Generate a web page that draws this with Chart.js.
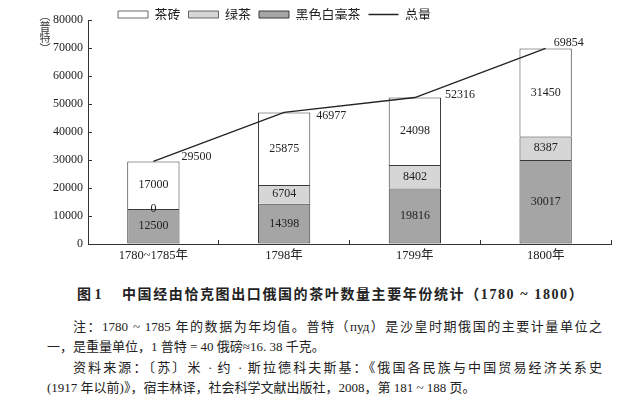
<!DOCTYPE html>
<html>
<head>
<meta charset="utf-8">
<script src="https://cdn.jsdelivr.net/npm/chart.js@4"></script>
<style>
  html, body { margin: 0; padding: 0; background: #fff; }
  body { width: 632px; height: 411px; position: relative; overflow: hidden;
         font-family: 'Liberation Serif', 'Noto Sans CJK SC', serif; color: #222; }
  #wrap { position: absolute; left: 0; top: 0; width: 632px; height: 270px; }
  #ytitle { position: absolute; left: 39px; top: 10px; width: 12px; text-align: center;
            font: 11px 'Noto Sans CJK SC'; line-height: 11px; color: #333; }
  #cap-title { position: absolute; top: 285px; left: 77px; line-height: 20px; white-space: nowrap;
               font-weight: bold; font-size: 14px; font-family: 'Liberation Serif', 'Noto Sans CJK SC'; }
  #cap-title .rest { position: absolute; left: 45px; letter-spacing: 1.6px; }
  #notes { position: absolute; top: 317px; left: 47px; width: 555px; font-size: 13px; line-height: 20.3px; }
  #notes p { margin: 0; white-space: nowrap; }
  #notes p.j { text-indent: 26px; text-align: justify; text-align-last: justify; white-space: normal; }
</style>
</head>
<body>
<div id="wrap"><canvas id="graf" width="632" height="270"></canvas></div>
<div id="ytitle">︵<br>普<br>特<br>︶</div>
<div id="cap-title">图 1<span class="rest">中国经由恰克图出口俄国的茶叶数量主要年份统计（1780 ~ 1800）</span></div>
<div id="notes">
  <p class="j">注：1780 ~ 1785 年的数据为年均值。普特（пуд）是沙皇时期俄国的主要计量单位之</p>
  <p>一，是重量单位，1 普特 = 40 俄磅≈16. 38 千克。</p>
  <p class="j">资料来源：〔苏〕米 · 约 · 斯拉德科夫斯基：《俄国各民族与中国贸易经济关系史</p>
  <p>(1917 年以前)》，宿丰林译，社会科学文献出版社，2008，第 181 ~ 188 页。</p>
</div>
<script>
// data
const roky = ['1780~1785年', '1798年', '1799年', '1800年'];
const cihlovyCaj = [17000, 25875, 24098, 31450];   // 茶砖
const zelenyCaj = [0, 6704, 8402, 8387];           // 绿茶
const cernyCaj = [12500, 14398, 19816, 30017];     // 黑色白毫茶
const celkem = [29500, 46977, 52316, 69854];       // 总量
const poradiLegendy = ['茶砖', '绿茶', '黑色白毫茶', '总量'];

// where the total labels sit next to their point (px)
const posunPopisku = [[28, -5], [32, 3], [30, -3], [8, -6]];

const serif = "'Liberation Serif', 'Noto Sans CJK SC'";
// upper segments skip their bottom edge so stacked borders stay 1px
const horniOkraj = { top: 1, left: 1, right: 1, bottom: 0 };

const popisky = {
  id: 'popisky',
  afterDatasetsDraw(chart) {
    const ctx = chart.ctx;
    ctx.save();
    ctx.font = '12px ' + serif;
    ctx.fillStyle = '#222';
    ctx.textBaseline = 'middle';
    chart.data.datasets.forEach((ds, i) => {
      const meta = chart.getDatasetMeta(i);
      meta.data.forEach((el, j) => {
        if (ds.type === 'line') {
          ctx.textAlign = 'left';
          ctx.fillText(String(ds.data[j]), el.x + posunPopisku[j][0], el.y + posunPopisku[j][1]);
        } else {
          ctx.textAlign = 'center';
          ctx.fillText(String(ds.data[j]), el.x, (el.y + el.base) / 2);
        }
      });
    });
    ctx.restore();
  }
};

const legenda = {
  id: 'legenda',
  beforeLayout(chart) {
    const lg = chart.legend;
    if (lg && !lg._upraveno) {
      const fit = lg.fit.bind(lg);
      lg.fit = function () { fit(); this.height = 20; };
      lg._upraveno = true;
    }
  },
  afterLayout(chart) {
    const lg = chart.legend;
    const posun = 110 - lg.left;
    lg.left += posun;
    lg.right += posun;
  }
};

const ctx = document.getElementById('graf').getContext('2d');
new Chart(ctx, {
  type: 'bar',
  data: {
    labels: roky,
    datasets: [
      { label: '黑色白毫茶', data: cernyCaj, backgroundColor: '#a5a5a5', borderColor: '#3a3a3a', borderWidth: 1, borderSkipped: false, pointStyle: 'rect' },
      { label: '绿茶', data: zelenyCaj, backgroundColor: '#d6d6d6', borderColor: '#3a3a3a', borderWidth: horniOkraj, borderSkipped: false, pointStyle: 'rect' },
      { label: '茶砖', data: cihlovyCaj, backgroundColor: '#ffffff', borderColor: '#3a3a3a', borderWidth: horniOkraj, borderSkipped: false, pointStyle: 'rect' },
      { type: 'line', label: '总量', data: celkem, borderColor: '#222', backgroundColor: 'transparent', borderWidth: 1.3,
        pointRadius: 0, pointBorderWidth: 1.5, pointStyle: 'line', tension: 0, order: -1 }
    ]
  },
  options: {
    responsive: false,
    animation: false,
    layout: { padding: { left: 0, right: 21, top: 0, bottom: 0 } },
    datasets: { bar: { categoryPercentage: 1, barPercentage: 0.4 } },
    scales: {
      x: {
        stacked: true,
        grid: { display: true, drawOnChartArea: false, drawTicks: true, tickLength: -4, color: '#333', offset: true },
        border: { color: '#333', width: 1 },
        ticks: { color: '#222', font: { size: 12.5, family: serif }, padding: 8.5, maxRotation: 0 },
        afterFit: s => { s.height = 26; }
      },
      y: {
        stacked: true,
        min: 0, max: 80000,
        grid: { display: true, drawOnChartArea: false, drawTicks: true, tickLength: -4, color: '#333' },
        border: { color: '#333', width: 1 },
        ticks: { stepSize: 10000, color: '#222', font: { size: 12, family: serif }, padding: 9,
                 callback: v => String(v) },
        afterFit: s => { s.width = 88; }
      }
    },
    plugins: {
      legend: {
        position: 'top',
        align: 'start',
        labels: {
          usePointStyle: true, pointStyleWidth: 30, boxHeight: 7, padding: 8,
          color: '#222', font: { size: 13, family: "'Noto Sans CJK SC'" },
          sort: (a, b) => poradiLegendy.indexOf(a.text) - poradiLegendy.indexOf(b.text)
        }
      },
      tooltip: { enabled: false }
    }
  },
  plugins: [popisky, legenda]
});
</script>
</body>
</html>
